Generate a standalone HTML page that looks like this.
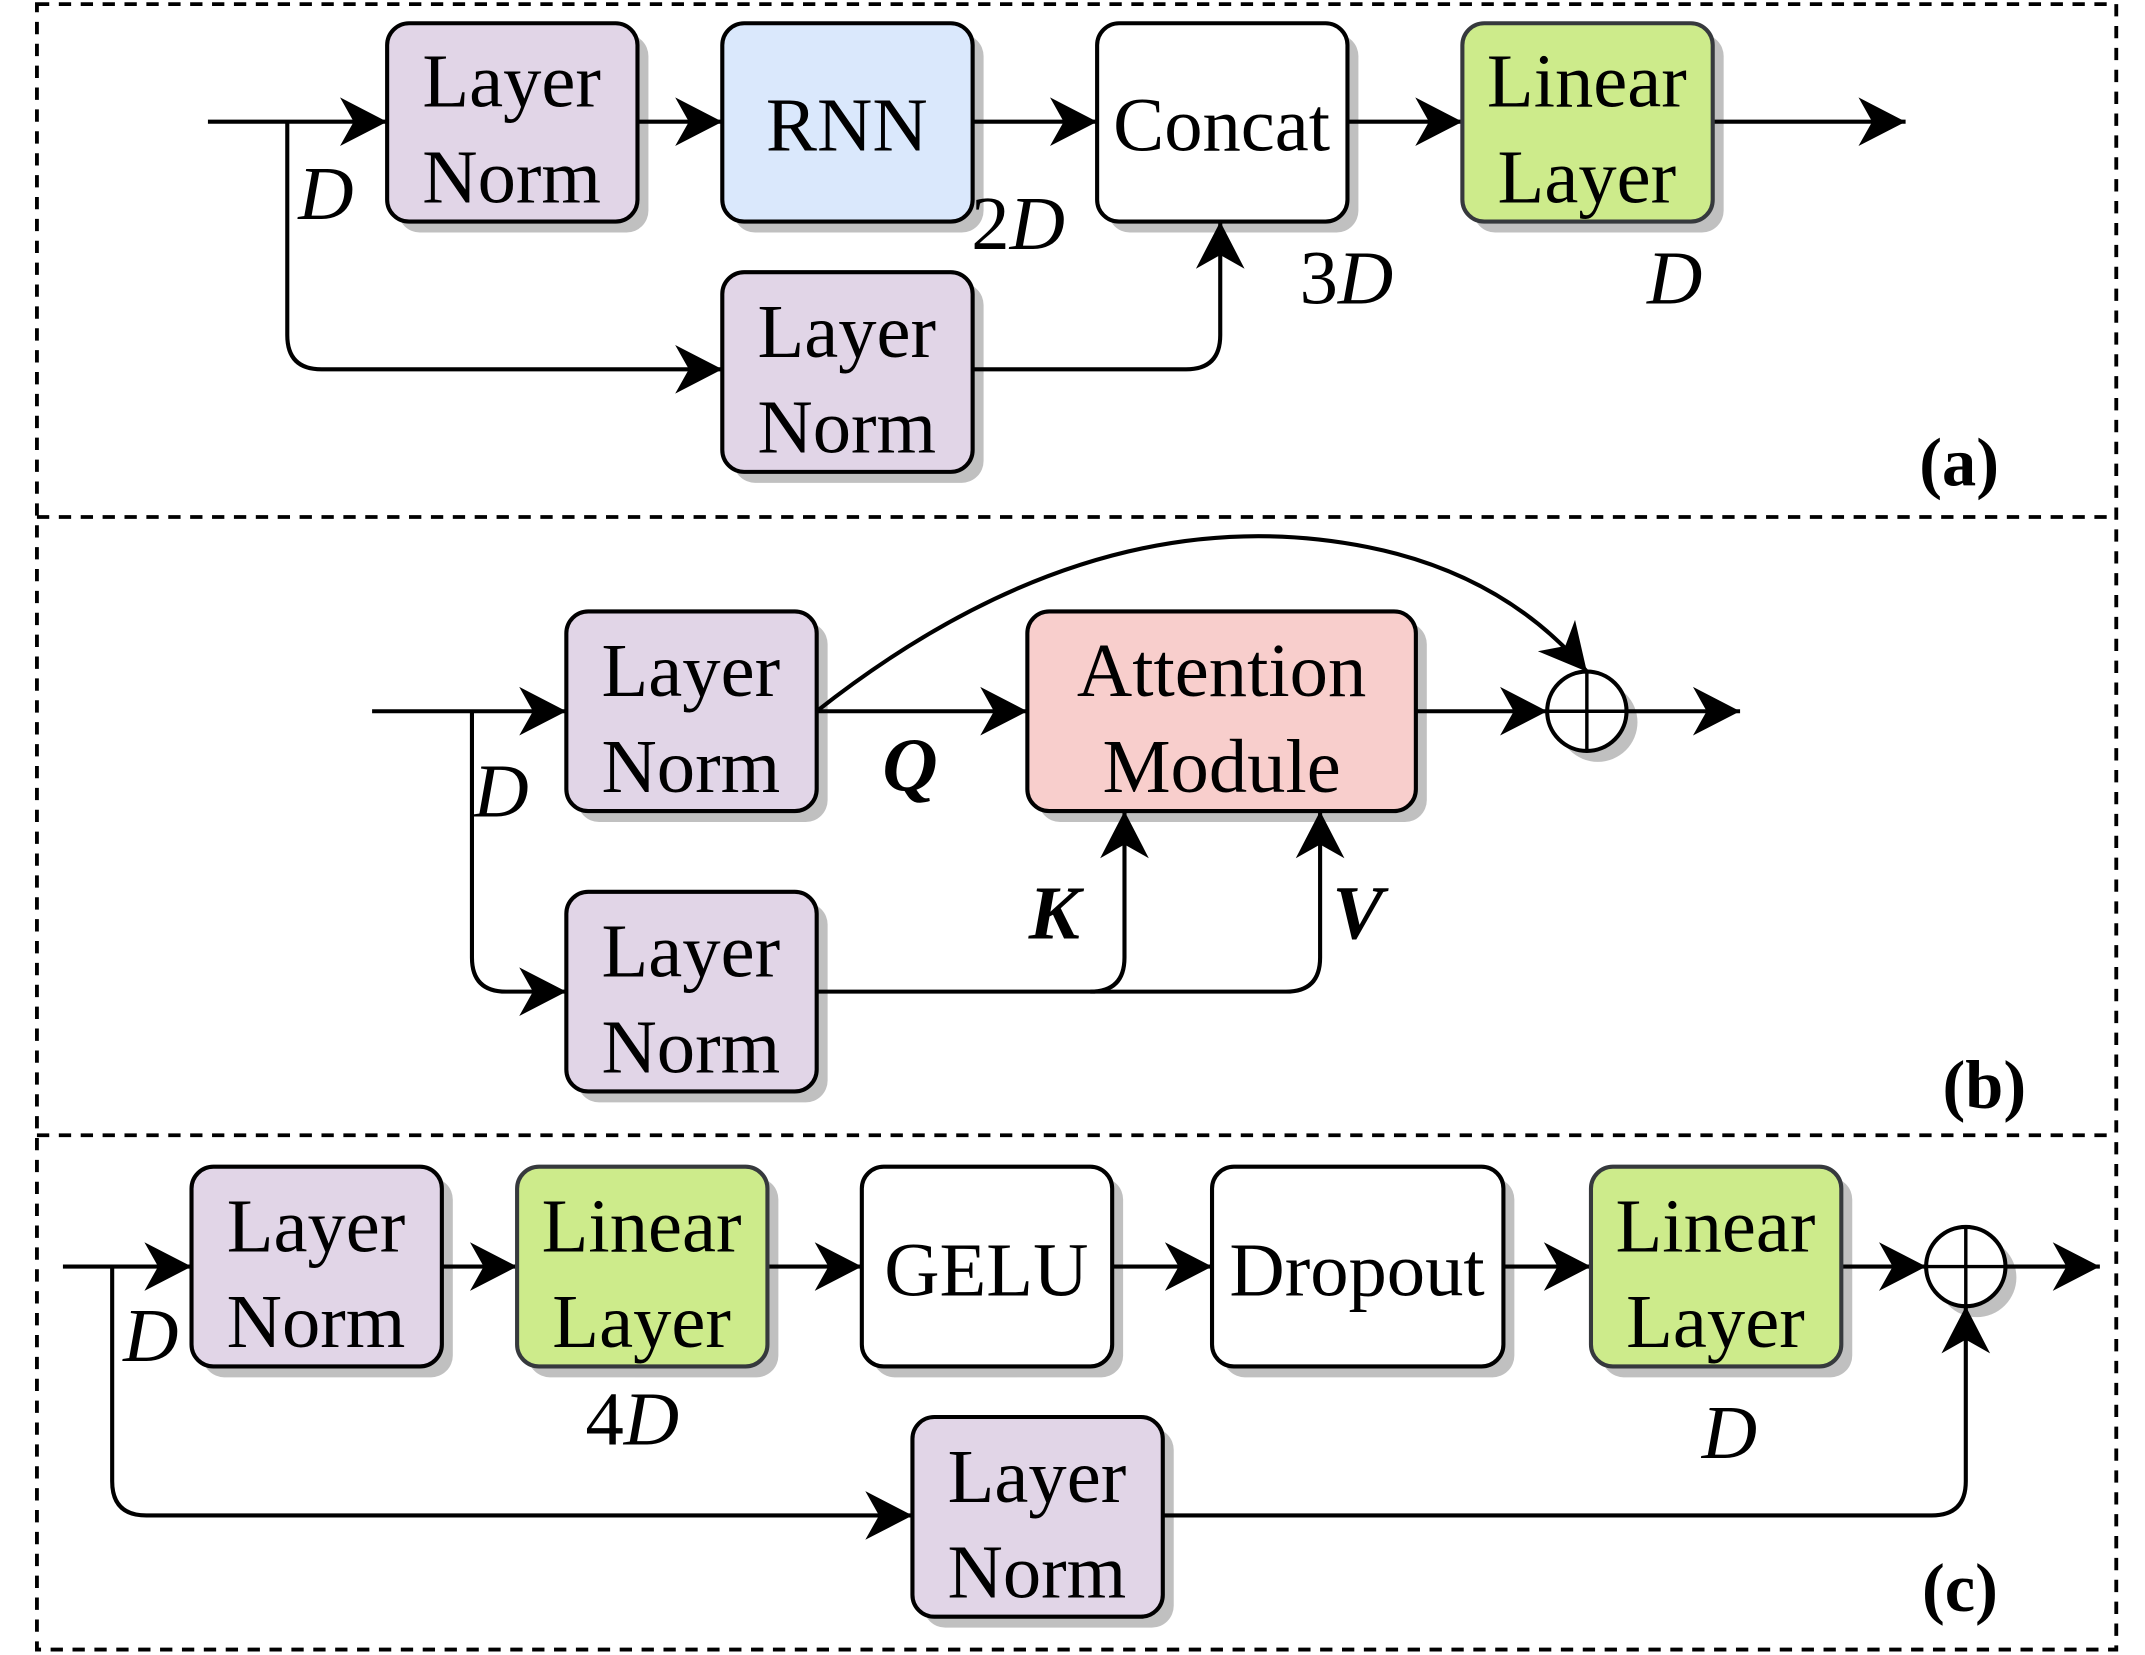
<!DOCTYPE html>
<html><head><meta charset="utf-8"><style>html,body{margin:0;padding:0;background:#fff}svg{display:block}</style></head>
<body>
<svg width="2145" height="1655" viewBox="0 0 1568 1210" preserveAspectRatio="none" xmlns="http://www.w3.org/2000/svg" font-family="'Liberation Serif', serif">
<defs>
<marker id="ar" markerUnits="userSpaceOnUse" markerWidth="40" markerHeight="40" viewBox="-32 -18 36 36" refX="0" refY="0" orient="auto">
<path d="M0,0 L-31,-16 L-22,0 L-31,16 Z" fill="#000"/>
</marker>
</defs>
<g fill="none" stroke="#000" stroke-width="2.8" stroke-dasharray="9,7">
<rect x="27" y="3" width="1520" height="1203"/>
<line x1="27" y1="378" x2="1547" y2="378"/>
<line x1="27" y1="830" x2="1547" y2="830"/>
</g>
<g fill="#c0c0c0">
<rect x="291" y="25" width="183" height="145" rx="16"/>
<rect x="536" y="25" width="183" height="145" rx="16"/>
<rect x="810" y="25" width="183" height="145" rx="16"/>
<rect x="1077" y="25" width="183" height="145" rx="16"/>
<rect x="536" y="207" width="183" height="146" rx="16"/>
<rect x="422" y="455" width="183" height="146" rx="16"/>
<rect x="759" y="455" width="284" height="146" rx="16"/>
<rect x="422" y="660" width="183" height="146" rx="16"/>
<circle cx="1168" cy="528" r="29"/>
<rect x="148" y="861" width="183" height="146" rx="16"/>
<rect x="386" y="861" width="183" height="146" rx="16"/>
<rect x="638" y="861" width="183" height="146" rx="16"/>
<rect x="894" y="861" width="213" height="146" rx="16"/>
<rect x="1171" y="861" width="183" height="146" rx="16"/>
<circle cx="1445" cy="934" r="29"/>
<rect x="675" y="1044" width="183" height="146" rx="16"/>
</g>
<g fill="none" stroke="#000" stroke-width="3">
<path d="M152,89 H283" marker-end="url(#ar)"/>
<path d="M210,89 V245 Q210,270 235,270 H528" marker-end="url(#ar)"/>
<path d="M466,89 H528" marker-end="url(#ar)"/>
<path d="M711,89 H802" marker-end="url(#ar)"/>
<path d="M985,89 H1069" marker-end="url(#ar)"/>
<path d="M1252,89 H1393" marker-end="url(#ar)"/>
<path d="M711,270 H867 Q892,270 892,245 V162" marker-end="url(#ar)"/>
<path d="M272,520 H414" marker-end="url(#ar)"/>
<path d="M345,520 V700 Q345,725 370,725 H414" marker-end="url(#ar)"/>
<path d="M597,520 H751" marker-end="url(#ar)"/>
<path d="M597,520 Q800,360 1000,400 Q1100,420 1160,491" marker-end="url(#ar)"/>
<path d="M1035,520 H1131" marker-end="url(#ar)"/>
<path d="M1189,520 H1272" marker-end="url(#ar)"/>
<path d="M597,725 H797 Q822,725 822,700 V593" marker-end="url(#ar)"/>
<path d="M797,725 H940 Q965,725 965,700 V593" marker-end="url(#ar)"/>
<path d="M46,926 H140" marker-end="url(#ar)"/>
<path d="M82,926 V1083 Q82,1108 107,1108 H667" marker-end="url(#ar)"/>
<path d="M323,926 H378" marker-end="url(#ar)"/>
<path d="M561,926 H630" marker-end="url(#ar)"/>
<path d="M813,926 H886" marker-end="url(#ar)"/>
<path d="M1099,926 H1163" marker-end="url(#ar)"/>
<path d="M1346,926 H1408" marker-end="url(#ar)"/>
<path d="M1466,926 H1535" marker-end="url(#ar)"/>
<path d="M850,1108 H1412 Q1437,1108 1437,1083 V955" marker-end="url(#ar)"/>
</g>
<g stroke="#000" stroke-width="3">
<rect x="283" y="17" width="183" height="145" rx="16" fill="#e1d5e7"/>
<rect x="528" y="17" width="183" height="145" rx="16" fill="#dae8fc"/>
<rect x="802" y="17" width="183" height="145" rx="16" fill="#fff"/>
<rect x="1069" y="17" width="183" height="145" rx="16" fill="#cdeb8b" stroke="#36393d"/>
<rect x="528" y="199" width="183" height="146" rx="16" fill="#e1d5e7"/>
<rect x="414" y="447" width="183" height="146" rx="16" fill="#e1d5e7"/>
<rect x="751" y="447" width="284" height="146" rx="16" fill="#f8cecc"/>
<rect x="414" y="652" width="183" height="146" rx="16" fill="#e1d5e7"/>
<circle cx="1160" cy="520" r="29" fill="#fff"/>
<rect x="140" y="853" width="183" height="146" rx="16" fill="#e1d5e7"/>
<rect x="378" y="853" width="183" height="146" rx="16" fill="#cdeb8b" stroke="#36393d"/>
<rect x="630" y="853" width="183" height="146" rx="16" fill="#fff"/>
<rect x="886" y="853" width="213" height="146" rx="16" fill="#fff"/>
<rect x="1163" y="853" width="183" height="146" rx="16" fill="#cdeb8b" stroke="#36393d"/>
<circle cx="1437" cy="926" r="29" fill="#fff"/>
<rect x="667" y="1036" width="183" height="146" rx="16" fill="#e1d5e7"/>
</g>
<g stroke="#000" stroke-width="2.5">
<line x1="1131" y1="520" x2="1189" y2="520"/><line x1="1160" y1="491" x2="1160" y2="549"/>
<line x1="1408" y1="926" x2="1466" y2="926"/><line x1="1437" y1="897" x2="1437" y2="955"/>
</g>
<g font-size="56" text-anchor="middle" fill="#000">
<text x="374" y="78">Layer</text><text x="374" y="148">Norm</text>
<text x="619" y="110">RNN</text>
<text x="893" y="110">Concat</text>
<text x="1160" y="78">Linear</text><text x="1160" y="148">Layer</text>
<text x="619" y="261">Layer</text><text x="619" y="331">Norm</text>
<text x="505" y="509">Layer</text><text x="505" y="579">Norm</text>
<text x="893" y="509">Attention</text><text x="893" y="579">Module</text>
<text x="505" y="714">Layer</text><text x="505" y="784">Norm</text>
<text x="231" y="915">Layer</text><text x="231" y="985">Norm</text>
<text x="469" y="915">Linear</text><text x="469" y="985">Layer</text>
<text x="721" y="947">GELU</text>
<text x="992" y="947">Dropout</text>
<text x="1254" y="915">Linear</text><text x="1254" y="985">Layer</text>
<text x="758" y="1098">Layer</text><text x="758" y="1168">Norm</text>
</g>
<g font-size="56" fill="#000">
<text x="218" y="160" font-style="italic">D</text>
<text x="710" y="182">2<tspan font-style="italic">D</tspan></text>
<text x="950" y="222">3<tspan font-style="italic">D</tspan></text>
<text x="1204" y="222" font-style="italic">D</text>
<text x="346" y="597" font-style="italic">D</text>
<text x="645" y="578" font-style="italic" font-weight="bold">Q</text>
<text x="752" y="686" font-style="italic" font-weight="bold">K</text>
<text x="974" y="686" font-style="italic" font-weight="bold">V</text>
<text x="90" y="995" font-style="italic">D</text>
<text x="428" y="1056">4<tspan font-style="italic">D</tspan></text>
<text x="1244" y="1066" font-style="italic">D</text>
<text x="1403" y="355" font-weight="bold" font-size="50">(a)</text>
<text x="1420" y="810" font-weight="bold" font-size="50">(b)</text>
<text x="1405" y="1178" font-weight="bold" font-size="50">(c)</text>
</g>
</svg>
</body></html>
